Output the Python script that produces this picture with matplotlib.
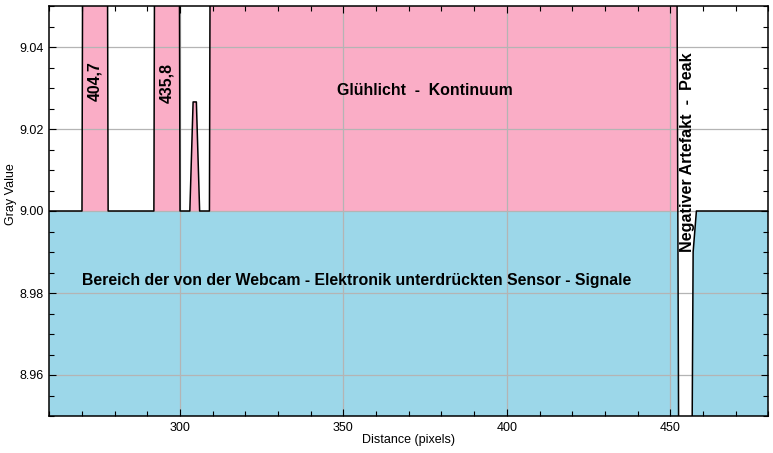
import numpy as np
import matplotlib
matplotlib.use("Agg")
import matplotlib.pyplot as plt
from matplotlib.patches import Rectangle
from matplotlib.ticker import MultipleLocator

plt.rcParams.update({
    "font.family": ["Liberation Sans", "DejaVu Sans"],
    "font.size": 9,
})

# profile data (distance in pixels, gray value)
distance = np.arange(260, 481)
gray = np.full(distance.shape, 9.0)
line_404 = (271, 277)      # 404,7 nm line
line_435 = (293, 299)      # 435,8 nm line
small_peak = [304, 305]
small_peak_val = 9.0266
continuum = (310, 451)     # Glühlicht - Kontinuum
high_val = 9.3
artefact_idx = [452, 453, 454, 455, 456, 457]
artefact_val = [9.07, 8.85, 8.85, 8.85, 8.85, 8.99]

for a, b in (line_404, line_435, continuum):
    gray[(distance >= a) & (distance <= b)] = high_val
for d in small_peak:
    gray[distance == d] = small_peak_val
for d, v in zip(artefact_idx, artefact_val):
    gray[distance == d] = v

baseline = 9.0
x_range = (260, 480)
y_range = (8.95, 9.05)

pink = "#FAADC6"
blue = "#9CD7E9"

fig = plt.figure(figsize=(7.73, 4.53), dpi=100)
ax = fig.add_axes([49.3 / 773, 1 - 416 / 453, (768.3 - 49.3) / 773, 410 / 453])
ax.set_xlim(*x_range)
ax.set_ylim(*y_range)

width = x_range[1] - x_range[0]
# blue part: everything below the baseline
f1 = ax.fill_between(distance, 8.0, gray, color=blue, lw=0, zorder=1)
f1.set_clip_path(Rectangle((x_range[0], y_range[0]), width, baseline - y_range[0],
                           transform=ax.transData))
# pink part: signal above the baseline
f2 = ax.fill_between(distance, 8.0, gray, color=pink, lw=0, zorder=1)
f2.set_clip_path(Rectangle((x_range[0], baseline), width, y_range[1] - baseline,
                           transform=ax.transData))

ax.plot(distance, gray, color="black", lw=1.1, zorder=4)

ax.xaxis.set_major_locator(MultipleLocator(50))
ax.xaxis.set_minor_locator(MultipleLocator(10))
ax.yaxis.set_major_locator(MultipleLocator(0.02))
ax.yaxis.set_minor_locator(MultipleLocator(0.005))
ax.yaxis.set_major_formatter(plt.FormatStrFormatter("%.2f"))
ax.set_axisbelow(False)
ax.grid(True, which="major", color="#b4b4b4", lw=0.9)
ax.tick_params(which="both", direction="in", top=True, right=True, width=0.8,
               labelsize=9, pad=4)
ax.tick_params(which="major", length=5)
ax.tick_params(which="minor", length=3.5)
for s in ax.spines.values():
    s.set_linewidth(1.1)
    s.set_zorder(5)

ax.set_xlabel("Distance (pixels)", fontsize=9)
ax.set_ylabel("Gray Value", fontsize=9)
ax.yaxis.set_label_coords(-0.045, 0.54)
ax.xaxis.set_label_coords(0.5, -0.045)

tkw = dict(fontweight="bold", color="black", zorder=6, ha="center", va="center")
ax.text(0.5225, 0.793, "Glühlicht  -  Kontinuum", transform=ax.transAxes, fontsize=11.4, **tkw)
ax.text(0.427, 0.330, "Bereich der von der Webcam - Elektronik unterdrückten Sensor - Signale",
        transform=ax.transAxes, fontsize=11.4, **tkw)
ax.text(0.0636, 0.816, "404,7", transform=ax.transAxes, fontsize=11.4, rotation=90, **tkw)
ax.text(0.163, 0.811, "435,8", transform=ax.transAxes, fontsize=11.4, rotation=90, **tkw)
ax.text(0.887, 0.643, "Negativer Artefakt  -  Peak", transform=ax.transAxes, fontsize=11.6,
        rotation=90, **tkw)

fig.savefig("out.png", dpi=100)
